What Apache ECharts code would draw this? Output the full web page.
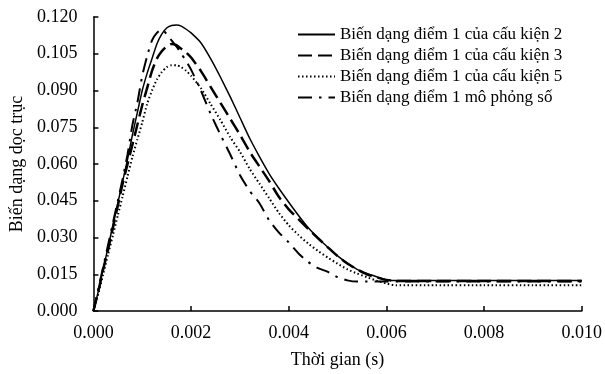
<!DOCTYPE html>
<html>
<head>
<meta charset="utf-8">
<script src="https://cdn.jsdelivr.net/npm/echarts@6/dist/echarts.min.js"></script>
<style>
  html, body { margin: 0; padding: 0; background: #fff; }
  #chart { width: 605px; height: 374px; }
</style>
</head>
<body>
<div id="chart"></div>
<script>
// thời gian (s)
const time = [0, 0.0001, 0.0002, 0.0003, 0.0004, 0.0005, 0.0006, 0.0007, 0.0008, 0.0009, 0.0010,
  0.0011, 0.0012, 0.0013, 0.0014, 0.0015, 0.0016, 0.0017, 0.0018, 0.0019, 0.0020,
  0.0022, 0.0024, 0.0026, 0.0028, 0.0030, 0.0032, 0.0034, 0.0036, 0.0038, 0.0040,
  0.0042, 0.0044, 0.0046, 0.0048, 0.0050, 0.0052, 0.0054, 0.0056, 0.0058, 0.0060, 0.0062,
  0.007, 0.008, 0.009, 0.010];

// cấu kiện 2 (nét liền)
const ck2 = [0, 0.008, 0.017, 0.026, 0.035, 0.044, 0.053, 0.062, 0.072, 0.081, 0.090,
  0.097, 0.103, 0.109, 0.113, 0.1155, 0.1165, 0.1167, 0.1163, 0.115, 0.1135,
  0.1095, 0.103, 0.0955, 0.0875, 0.079, 0.0705, 0.063, 0.056, 0.050, 0.0444,
  0.039, 0.034, 0.0298, 0.026, 0.0225, 0.0195, 0.017, 0.0153, 0.014, 0.0128, 0.0124,
  0.0125, 0.0125, 0.0125, 0.0125];

// cấu kiện 3 (nét đứt)
const ck3 = [0, 0.008, 0.017, 0.025, 0.034, 0.043, 0.052, 0.060, 0.068, 0.076, 0.084,
  0.091, 0.098, 0.103, 0.106, 0.108, 0.109, 0.1085, 0.107, 0.1055, 0.1035,
  0.098, 0.0915, 0.085, 0.0785, 0.072, 0.065, 0.059, 0.053, 0.0465, 0.0415,
  0.0375, 0.0335, 0.0297, 0.026, 0.0224, 0.0194, 0.017, 0.015, 0.0137, 0.0127, 0.0122,
  0.0122, 0.0122, 0.0122, 0.0122];

// cấu kiện 5 (chấm)
const ck5 = [0, 0.007, 0.015, 0.023, 0.031, 0.039, 0.047, 0.055, 0.063, 0.070, 0.077,
  0.0845, 0.090, 0.0945, 0.0975, 0.0995, 0.1003, 0.1003, 0.0995, 0.098, 0.096,
  0.091, 0.0845, 0.078, 0.071, 0.065, 0.058, 0.052, 0.046, 0.040, 0.035,
  0.031, 0.0275, 0.0245, 0.0218, 0.0193, 0.017, 0.0153, 0.0138, 0.0124, 0.0112, 0.0105,
  0.0105, 0.0105, 0.0105, 0.0105];

// mô phỏng số (gạch chấm)
const moPhong = [0, 0.009, 0.018, 0.027, 0.036, 0.045, 0.054, 0.064, 0.076, 0.085, 0.096,
  0.104, 0.1105, 0.1135, 0.115, 0.113, 0.1105, 0.108, 0.105, 0.102, 0.0985,
  0.090, 0.0805, 0.072, 0.064, 0.0555, 0.049, 0.044, 0.037, 0.032, 0.028,
  0.0235, 0.020, 0.0175, 0.016, 0.0138, 0.0125, 0.012, 0.012, 0.012, 0.012, 0.012,
  0.012, 0.012, 0.012, 0.012];

const names = [
  'Biến dạng điểm 1 của cấu kiện 2',
  'Biến dạng điểm 1 của cấu kiện 3',
  'Biến dạng điểm 1 của cấu kiện 5',
  'Biến dạng điểm 1 mô phỏng số'
];

const font = 'Liberation Serif';
const pairs = arr => time.map((t, i) => [t, arr[i]]);

let myChart = echarts.init(document.getElementById('chart'));

let line = (name, arr, width, type, cap) => ({
  name: name,
  type: 'line',
  data: pairs(arr),
  symbol: 'none',
  smooth: 0.2,
  lineStyle: { color: '#000', width: width, type: type, cap: cap || 'butt' },
  itemStyle: { color: '#000' }
});

myChart.setOption({
  animation: false,
  backgroundColor: '#fff',
  textStyle: { fontFamily: font, color: '#000' },
  grid: { left: 89, right: 22, top: 17, bottom: 56 },
  legend: {
    orient: 'vertical',
    left: 297,
    top: 26,
    padding: 0,
    itemWidth: 37,
    itemHeight: 14,
    itemGap: 4,
    itemStyle: { opacity: 0 },
    textStyle: { fontFamily: font, fontSize: 17, color: '#000' },
    data: names
  },
  xAxis: {
    type: 'value',
    min: 0,
    max: 0.010,
    interval: 0.002,
    name: 'Thời gian (s)',
    nameLocation: 'middle',
    nameGap: 40,
    nameTextStyle: { fontFamily: font, fontSize: 18, color: '#000' },
    axisLine: { lineStyle: { color: '#000', width: 1.5 } },
    axisTick: { inside: true, length: 5, lineStyle: { color: '#000', width: 1.5 } },
    splitLine: { show: false },
    axisLabel: { fontFamily: font, fontSize: 18, color: '#000', margin: 13,
      formatter: v => v.toFixed(3) }
  },
  yAxis: {
    type: 'value',
    min: 0,
    max: 0.120,
    interval: 0.015,
    name: 'Biến dạng dọc trục',
    nameLocation: 'middle',
    nameGap: 64,
    nameTextStyle: { fontFamily: font, fontSize: 18, color: '#000' },
    axisLine: { show: true, lineStyle: { color: '#000', width: 1.5 } },
    axisTick: { show: true, inside: true, length: 5, lineStyle: { color: '#000', width: 1.5 } },
    splitLine: { show: false },
    axisLabel: { fontFamily: font, fontSize: 18, color: '#000', margin: 16,
      formatter: v => v.toFixed(3) }
  },
  series: [
    line(names[0], ck2, 1.5, 'solid'),
    line(names[1], ck3, 2.5, [14, 6]),
    line(names[2], ck5, 2, [1.5, 2.5]),
    line(names[3], moPhong, 2, [14, 7, 2.5, 7])
  ]
});
</script>
</body>
</html>
